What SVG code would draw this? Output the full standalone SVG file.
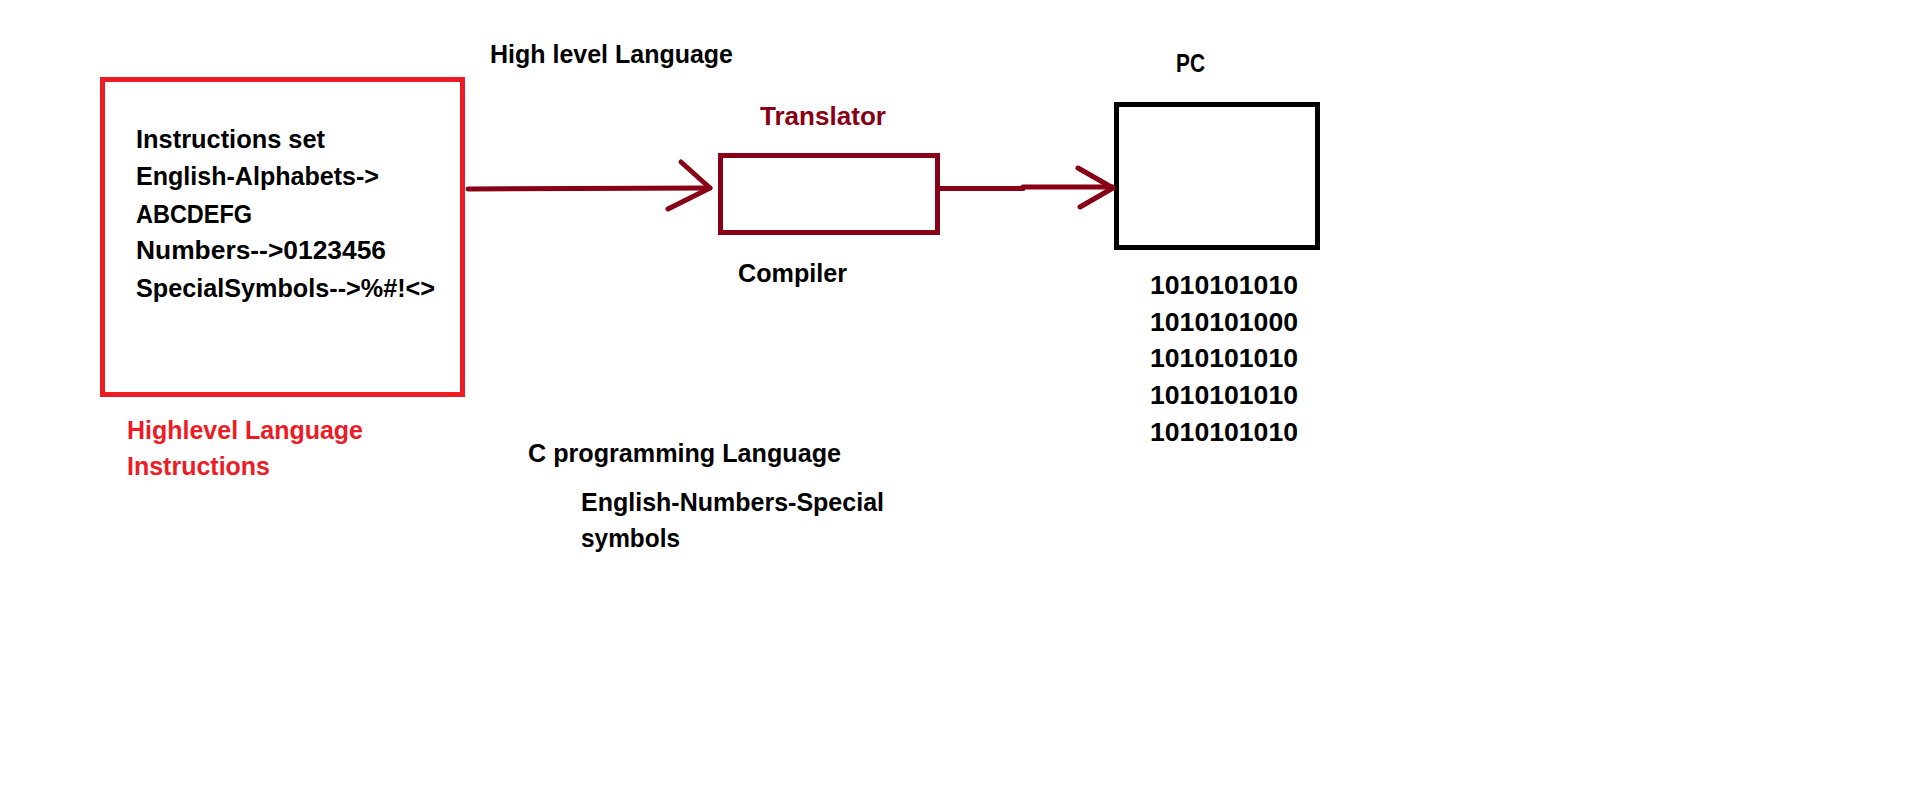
<svg xmlns="http://www.w3.org/2000/svg" width="1914" height="809" viewBox="0 0 1914 809">
<style>
text{font-family:"Liberation Sans",Arial,sans-serif;font-weight:bold;font-size:26px;fill:#000}
.red{fill:#ED1C24}
.dred{fill:#880015}
.conn{stroke:#880015;stroke-width:5;fill:none;stroke-linecap:round;stroke-linejoin:round}
</style>
<rect width="1914" height="809" fill="#fff"/>
<g id="label-high-level">
<text x="490" y="63" textLength="243" lengthAdjust="spacingAndGlyphs">High level Language</text>
</g>
<g id="node-instructions">
<rect x="102.5" y="79.5" width="360" height="315" fill="none" stroke="#ED1C24" stroke-width="5"/>
<text x="136" y="148" textLength="189" lengthAdjust="spacingAndGlyphs">Instructions set</text>
<text x="136" y="185" textLength="243" lengthAdjust="spacingAndGlyphs">English-Alphabets-&gt;</text>
<text x="136" y="223" textLength="116" lengthAdjust="spacingAndGlyphs">ABCDEFG</text>
<text x="136" y="259" textLength="250" lengthAdjust="spacingAndGlyphs">Numbers--&gt;0123456</text>
<text x="136" y="297" textLength="299" lengthAdjust="spacingAndGlyphs">SpecialSymbols--&gt;%#!&lt;&gt;</text>
<text class="red" x="127" y="439" textLength="236" lengthAdjust="spacingAndGlyphs">Highlevel Language</text>
<text class="red" x="127" y="475" textLength="143" lengthAdjust="spacingAndGlyphs">Instructions</text>
</g>
<g id="node-translator">
<text class="dred" x="760" y="125" textLength="126" lengthAdjust="spacingAndGlyphs">Translator</text>
<rect x="720.5" y="155.5" width="217" height="77" fill="none" stroke="#880015" stroke-width="5"/>
<text x="738" y="282" textLength="109" lengthAdjust="spacingAndGlyphs">Compiler</text>
</g>
<g id="node-pc">
<text x="1176" y="72" textLength="29" lengthAdjust="spacingAndGlyphs">PC</text>
<rect x="1116.5" y="104.5" width="201" height="143" fill="none" stroke="#000" stroke-width="5"/>
<text x="1150" y="294" textLength="148" lengthAdjust="spacingAndGlyphs">1010101010</text>
<text x="1150" y="331" textLength="148" lengthAdjust="spacingAndGlyphs">1010101000</text>
<text x="1150" y="367" textLength="148" lengthAdjust="spacingAndGlyphs">1010101010</text>
<text x="1150" y="404" textLength="148" lengthAdjust="spacingAndGlyphs">1010101010</text>
<text x="1150" y="441" textLength="148" lengthAdjust="spacingAndGlyphs">1010101010</text>
</g>
<g id="label-c">
<text x="528" y="462" textLength="313" lengthAdjust="spacingAndGlyphs">C programming Language</text>
<text x="581" y="511" textLength="303" lengthAdjust="spacingAndGlyphs">English-Numbers-Special</text>
<text x="581" y="547" textLength="99" lengthAdjust="spacingAndGlyphs">symbols</text>
</g>
<g id="connectors">
<path class="conn" d="M468 189 L710 188"/>
<path class="conn" d="M681 162 L710 188 L668 209"/>
<path class="conn" d="M938 188.5 L1023 188.5 M1023 187 L1113 187"/>
<path class="conn" d="M1078 168 L1113 188 L1080 207"/>
</g>
</svg>
